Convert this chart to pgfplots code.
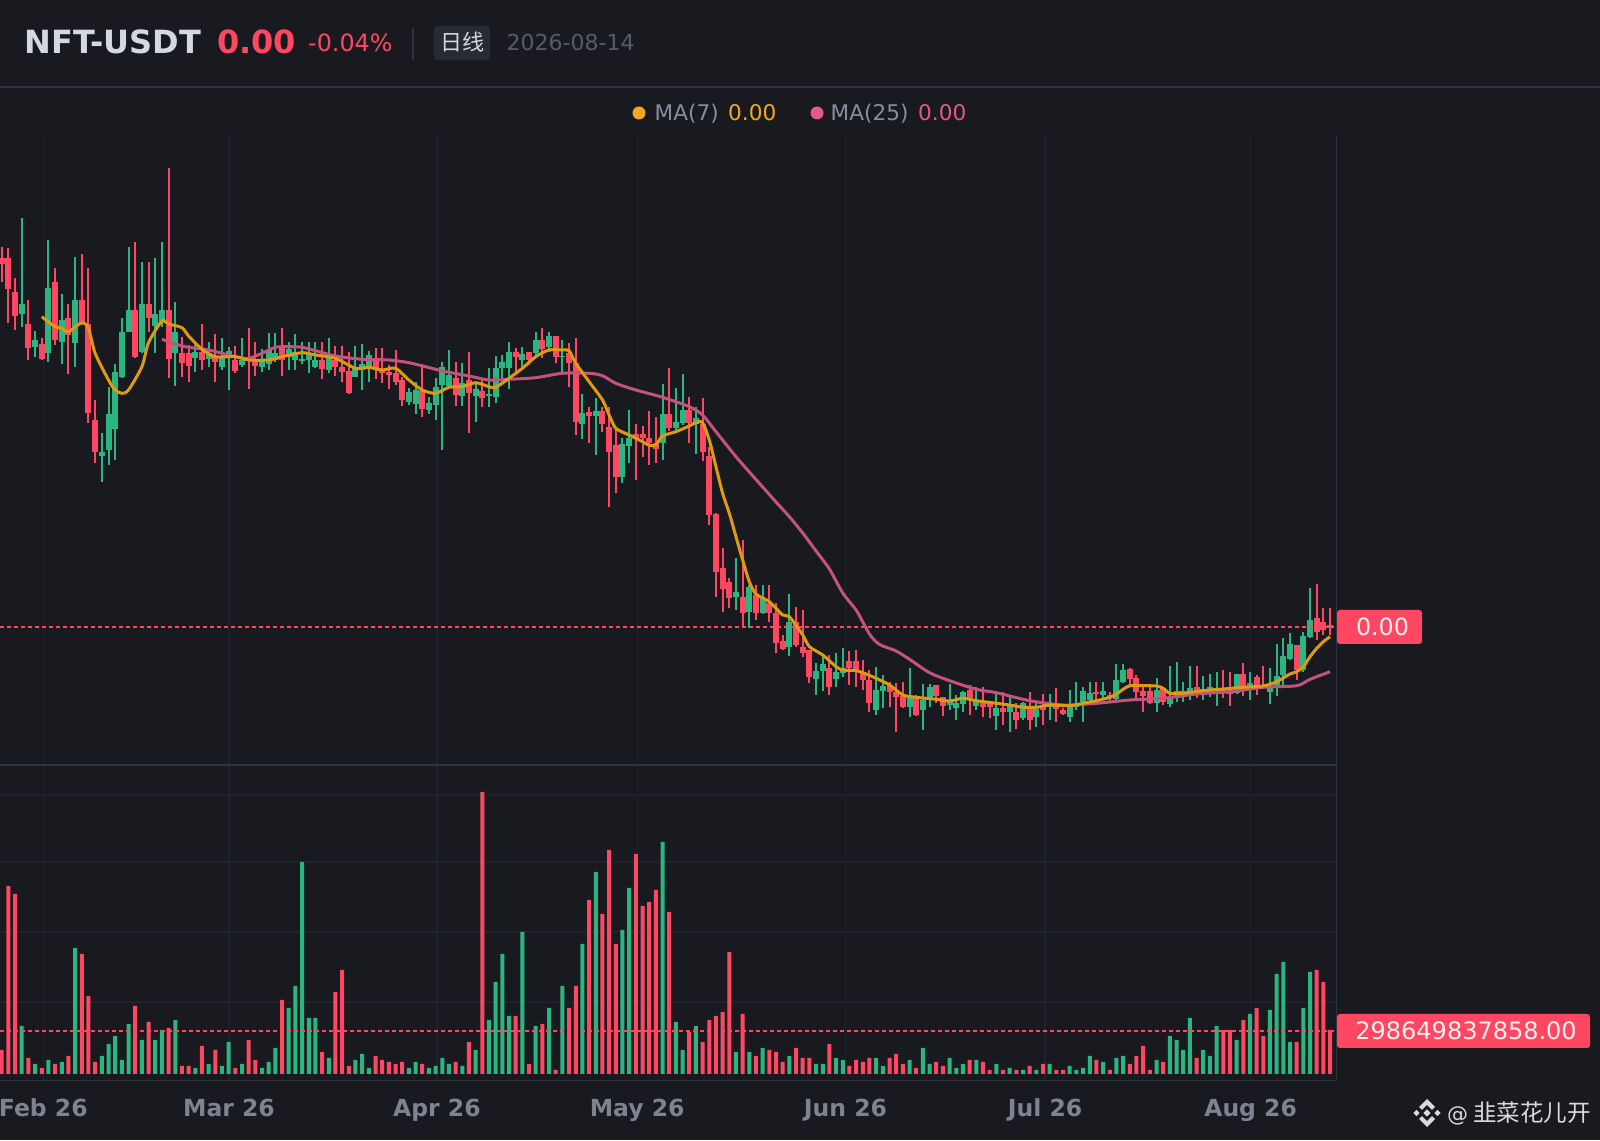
\documentclass[border=0pt]{standalone}
\usepackage{pgfplots}
\pgfplotsset{compat=1.18}
\usepackage{pgfplotstable}
\usepackage{fontspec}
\setmainfont{DejaVu Sans}
\newfontfamily\cjk{Noto Sans CJK SC}
\definecolor{bg}{HTML}{181A20}
\definecolor{gridc}{HTML}{1F2228}
\definecolor{borderc}{HTML}{2F343C}
\definecolor{upc}{HTML}{2BB681}
\definecolor{dnc}{HTML}{FF4761}
\definecolor{maA}{HTML}{DD9A12}
\definecolor{maB}{HTML}{C4527F}
\definecolor{maAt}{HTML}{F5A81E}
\definecolor{maBt}{HTML}{E4588A}
\definecolor{axtxt}{HTML}{7C8391}
\definecolor{legtxt}{HTML}{848E9C}
\definecolor{headc}{HTML}{D4D8DF}
\definecolor{badge}{HTML}{262B33}
\definecolor{datec}{HTML}{565B66}
\definecolor{wm}{HTML}{DADADA}
\pgfplotstableread{
x h t b l
0 518.3 506.7 501 483.3
1 516.7 506.7 475.7 441.7
2 486.7 472.7 449.3 435
4 465 441 417.3 405
6 426.7 421 405.7 405
8 496.7 482.7 425 420
10 461 446.7 430 391
12 510.7 465 441.7 441.7
13 496.7 441 351.7 341.7
14 365 345 313.3 301.7
20 522.7 455 407.7 406.7
22 502.7 461 447.3 433.3
25 596.7 455 405.7 386.7
27 428.3 411.7 401.7 388.3
28 420 411.7 399 383.3
30 441 412.7 405 395
32 431 408.3 403.3 383.3
35 419.3 405 394.3 391.7
37 436.7 406.7 404.3 375.7
38 423.3 405 399 389
42 436.7 416.7 405 389
48 423.3 405 395.7 385.7
50 419 405 398.3 389
51 419 398.3 393.3 383.3
52 413.3 394.3 371.7 371
56 416.7 406.7 395 385.7
57 416.7 395 392.3 381.7
58 400 393.3 390 375.7
59 415 391.7 383.3 380
60 388.3 385 365 359
63 401 374.3 355.7 347.7
68 403.3 386.7 370 359
70 413.3 385 371.7 331.7
72 385 374.3 367.3 357.7
77 416.7 413.3 407.7 390
79 413.3 412.7 405 400
81 436.7 425 415.7 406.7
83 429 429 407.7 401.7
85 422.3 411.7 401.7 377.7
86 426.7 401.7 343.3 330
88 357.7 352.7 349 321.7
90 358.3 354.3 341 333.3
91 358.3 338.3 313.3 257.7
92 336.7 320 287.7 271.7
95 341 330.7 326.7 285
96 339 330.7 326.7 307.7
97 354.3 326.7 321.7 300
98 348.3 321.7 315.7 301.7
100 396.7 351 336.7 334.3
103 368.3 355 342.3 321.7
105 366.7 341 313.3 304.3
106 318.3 309 250 240
107 251.7 251 193.3 168.3
108 216.7 196.7 175.7 153.3
109 186.7 183.3 167.3 156.7
111 225 168.3 151.7 136.7
113 180 170 151.7 145
115 180 161.7 151.7 143.3
116 161.7 151.7 121.7 111.7
117 130 124.3 115.7 115
119 158.3 143.3 120 118.3
120 155 118.3 111.7 107.7
121 115 115 87.7 81.7
124 110 96.7 77.7 70
127 114.3 104.3 96.7 80
128 115 104.3 95 78.3
129 105 93.3 85 75
130 95 85 61.7 53.3
133 83.3 80 73.3 58.3
134 81.7 73.3 67.7 33.3
135 83.3 69 57.7 56.7
137 70 69 49.7 49.3
140 80 80 69 61.7
141 68.3 68.3 59 49.3
145 80 75 66.7 50
147 78.3 63.3 58.3 48.3
148 63.3 61.7 57.7 46.7
150 73.3 56.7 52.7 40
152 61.7 53.3 45 35.7
154 73.3 56.7 45 35
156 71 60 55 40
158 76.7 60 55.7 43.3
159 56.7 55 51 50
164 83.3 73.3 71 61.7
166 73.3 70 66.7 63.3
169 96.7 95.7 85.7 80
170 90 86.7 73.3 65
171 80 74.3 69 53.3
172 80 74.3 61.7 61
174 78.3 76.7 63.3 60
179 99 78.3 74.3 66.7
183 95 76.7 73.3 66.7
184 93.3 75 71 59
186 102.3 91 78.3 69
188 90 87.7 78.3 70
189 99 80 77.7 76.7
194 120 120 95 85
197 181 146.7 133.3 125
198 156.7 143.3 135 130
199 156.7 140 136.7 130
}\dncandles
\pgfplotstableread{
x h t b l
3 546.7 461 451 437.7
5 434.3 425 417.7 407.7
7 525 476.7 411.7 403.3
9 471 445 423.3 401
11 508.3 465 421.7 397.7
15 332.3 313.3 309.3 283.3
16 378.3 351 315 300
17 401 392.7 335.7 305
18 446.7 433.3 388.3 386.7
19 518.3 455 433.3 433.3
21 502.7 461 413.3 411.7
23 506.7 451 439 411.7
24 522.7 455 441.7 438.3
26 462.7 433.3 411.7 379.3
29 420 412.7 406.7 393.3
31 423.3 411.7 405.7 397.7
33 426.7 406.7 398.3 395
34 418.3 414.3 406.7 375
36 426.7 405 400.3 398.3
39 415.7 405 398.3 393.3
40 432.3 415 401 395
41 431.7 411.7 405 403.3
43 423.3 415.7 408.3 395
44 431 413.3 405 395
45 423.3 405.7 403.7 401
46 422.7 411.7 405 391.7
47 423.3 405 398.3 396.7
49 426.7 406.7 395 391.7
53 419 398.3 387.7 387.7
54 421 401 395 375
55 414.3 410 398.3 383.3
61 376.7 372.7 363.3 360
62 383.3 375 361 351
64 368.3 362.3 355 351
65 386.7 378.3 360 345
66 403.3 398.3 380 315
67 415 390 379 377.7
69 401.7 381.7 369 359
71 383.3 375.7 369 343.3
73 396.7 371 369 357.7
74 409 396.7 367.7 361.7
75 410 402.7 396.7 385.7
76 422.7 413.3 396.7 375.7
78 418.3 411 405 395.7
80 432.7 425 412.3 408.3
82 432.7 429 418.3 413.3
84 425 409 407.7 393.3
87 370.7 352.3 341 325.7
89 366.7 354.3 349 310
93 326.7 321 287.7 281.7
94 355 326.7 319.3 301.7
99 381 351 321.7 305
101 376.7 343.3 336.7 335
102 391 355 342.3 340
104 358.3 346.7 341 311
110 206.7 173.3 167.7 155
112 180 178.3 153.3 136.7
114 180 166.7 151.7 151
118 171 143.3 117.7 109
122 101.7 94.3 85.7 70
123 111 101 94.3 74.3
125 112.3 93.3 85.7 77.7
126 116.7 96.7 92.3 88.3
131 98.3 75 55 50
132 90 79 74.3 56.7
136 96.7 66.7 57.7 47.7
138 81 65 55 35
139 81 77.7 66.7 58.3
142 81 63.3 60 55
143 70 61.7 56.7 45
144 74.3 73.3 61 53.3
146 78.3 65 59 55
149 71 56.7 49.3 35
151 70 60 53.3 33.3
153 63.3 62.3 46.7 45
155 61.7 55.7 48.3 38.3
157 71 60 57.7 45
160 75 60 48.3 43.3
161 83.3 60 57.7 55
162 78.3 74.3 63.3 43.3
163 83.3 71.7 65 61.7
165 83.3 74.3 70 65
167 101 85 65.7 64.3
168 101 95 83.3 81.7
173 86.7 75 61.7 53.3
175 99 66.7 61 58.3
176 102.7 74.3 69 63.3
177 83.3 74.3 71 63.3
178 99 76.7 72.3 65
180 89 75.7 72.3 65
181 91 78.3 73.3 68.3
182 93.3 76.7 72.3 59
185 91 91 71.7 71
187 93.3 81.7 77.7 65
190 96.7 78.3 73.3 61
191 121 89 78.3 69
192 126.7 109 90 78.3
193 132.3 121 105.7 105
195 133.3 129 95 93.3
196 176.7 145 128.3 126.7
}\upcandles
\pgfplotstableread{
x v
0 24
1 188
2 180
4 16
6 6
8 10
10 18
12 120
13 78
14 12
20 68
22 52
25 46
27 8
28 8
30 28
32 24
35 6
37 34
38 14
42 74
48 22
50 82
51 104
52 8
56 18
57 14
58 12
59 10
60 12
63 10
68 12
70 32
72 282
77 58
79 10
81 50
83 4
85 66
86 88
88 174
90 160
91 224
92 130
95 220
96 168
97 172
98 184
100 162
103 42
105 32
106 54
107 58
108 62
109 122
111 60
113 18
115 24
116 22
117 12
119 26
120 16
121 16
124 30
127 8
128 14
129 12
130 16
133 16
134 20
135 10
137 6
140 12
141 8
145 14
147 12
148 4
150 4
152 4
154 8
156 10
158 4
159 4
164 14
166 4
169 10
170 18
171 28
172 4
174 12
179 16
183 44
184 44
186 54
188 66
189 38
194 32
197 104
198 92
199 44
}\dnvol
\pgfplotstableread{
x v
3 48
5 10
7 14
9 12
11 126
15 18
16 30
17 38
18 14
19 50
21 34
23 34
24 44
26 54
29 6
31 10
33 8
34 32
36 10
39 6
40 12
41 26
43 66
44 88
45 212
46 56
47 56
49 16
53 14
54 20
55 6
61 6
62 12
64 6
65 8
66 16
67 10
69 8
71 24
73 54
74 92
75 120
76 58
78 142
80 48
82 66
84 88
87 130
89 202
93 144
94 186
99 232
101 52
102 24
104 48
110 22
112 22
114 26
118 18
122 10
123 10
125 16
126 14
131 16
132 8
136 14
138 26
139 10
142 16
143 6
144 10
146 14
149 10
151 6
153 4
155 4
157 10
160 8
161 4
162 6
163 18
165 12
167 16
168 18
173 14
175 38
176 34
177 24
178 56
180 24
181 18
182 48
185 34
187 60
190 64
191 100
192 112
193 32
195 66
196 102
}\upvol
\pgfplotstableread{
x y
6 448.3
8 438.3
9 436.7
10 433.3
12 442.3
13 436.7
14 411.7
16 385
17 375
18 371.7
19 375
21 398.3
22 422.3
24 444
25 441
27 437.3
28 429
30 415.7
32 408.3
35 408.3
37 405
40 405
42 408.3
45 412.3
47 410
50 406.7
53 396.7
55 397.7
57 395
59 396.7
61 385
63 375
65 371.7
67 377.7
69 378.3
71 382.3
73 378.3
74 377.7
76 386.7
78 396.7
80 408.3
82 415
84 415
85 414.3
86 401.7
88 383.3
90 365
91 350
92 336.7
94 330
96 323.3
97 319.7
98 320
99 329
101 333.3
103 339
104 342.3
105 342.3
106 325
107 298.3
108 271.7
109 251.7
110 228.3
111 205
112 183.3
113 171
115 163.3
117 150
118 148.3
120 130
121 118.3
123 110
125 98.3
126 95
128 94.3
129 92.3
131 86.7
133 80
135 70
137 67.7
140 65.7
142 64
144 66.7
146 64.3
149 61.7
151 60
153 57.7
155 57.7
157 60
160 59.3
162 61.7
164 64.3
166 67.7
167 71
168 75.7
169 79.3
171 79.3
173 79
174 76.7
175 71.7
177 71.7
180 74.3
183 76
186 77.7
189 79
191 83.3
193 91
194 93.3
195 98.3
196 108.3
197 116.7
198 123.3
199 128.3
}\maseven
\pgfplotstableread{
x y
24 425.7
26 421
28 417.7
31 415
35 408.3
37 406.7
39 411.7
41 417.7
43 418.3
45 417.7
47 414.3
50 409
54 405.7
58 405
61 402.3
65 395.7
66 394
70 389
73 385
76 385.7
80 387.3
84 391.7
88 391.7
90 389.3
92 381.7
95 375
99 367.7
103 358.3
105 350
107 333.3
110 308.3
112 293
114 278
116 263
118 248.3
120 232
122 214
124 196
126 172
128 155
129 143
130 131
131 123
132 119
134 114
136 105.7
139 92.3
142 84.3
146 75.7
149 72.3
154 64.3
159 60
164 61.7
169 65
174 66.7
179 71
184 73.3
189 77.7
194 79.3
196 85.7
199 93.3
}\matwentyfive
\pgfplotsset{
  every axis/.append style={scale only axis, anchor=south west, width=1336.6pt,
    xmin=-0.2547, xmax=199.98,
    axis line style={draw=none}, tick style={draw=none},
    xtick={6.23,34.05,65.2,95.2,126.4,156.3,187.1},
    xmajorgrids, ymajorgrids, major grid style={gridc, line width=1.2pt}},
  wick/.style 2 args={draw=none, mark=none, forget plot,
    error bars/.cd, y dir=plus, y explicit, error mark=none,
    error bar style={draw=#2, line width=#1, solid}},
}
\begin{document}
\begin{tikzpicture}
\useasboundingbox (0,0) rectangle (1600pt,1140pt);
\fill[bg] (0,0) rectangle (1600pt,1140pt);
\begin{axis}[at={(0pt,375pt)}, height=629pt, ymin=0, ymax=629, ytick=\empty, xticklabels={}]
\addplot[wick={2pt}{dnc}] table[x=x,y=l,y error plus expr=\thisrow{h}-\thisrow{l}] {\dncandles};
\addplot[wick={2pt}{upc}] table[x=x,y=l,y error plus expr=\thisrow{h}-\thisrow{l}] {\upcandles};
\addplot[wick={6pt}{dnc}] table[x=x,y=b,y error plus expr=\thisrow{t}-\thisrow{b}] {\dncandles};
\addplot[wick={6pt}{upc}] table[x=x,y=b,y error plus expr=\thisrow{t}-\thisrow{b}] {\upcandles};
\addplot[dnc, line width=2pt, dash pattern=on 4pt off 3pt, forget plot] coordinates {(-0.2547,138) (199.98,138)};
\addplot[maB, line width=3pt, smooth, tension=0.45, mark=none, forget plot] table[x=x,y=y] {\matwentyfive};
\addplot[maA, line width=3pt, smooth, tension=0.45, mark=none, forget plot] table[x=x,y=y] {\maseven};
\end{axis}
\begin{axis}[at={(0pt,59.4pt)}, height=315.6pt, ymin=-6.6, ymax=309, ytick={72,142,212,279}, yticklabels={},
  xticklabels={Feb 26,Mar 26,Apr 26,May 26,Jun 26,Jul 26,Aug 26},
  xticklabel style={font=\fontsize{23.5}{28}\selectfont\bfseries, text=axtxt, anchor=base, yshift=-35.5pt}]
\addplot[ybar, bar width=4pt, bar shift=0pt, fill=dnc, draw=none, forget plot] table[x=x,y=v] {\dnvol};
\addplot[ybar, bar width=4pt, bar shift=0pt, fill=upc, draw=none, forget plot] table[x=x,y=v] {\upvol};
\addplot[dnc, line width=2pt, dash pattern=on 4pt off 3pt, forget plot] coordinates {(-0.2547,43.3) (199.98,43.3)};
\end{axis}
\begin{scope}[shift={(0pt,1140pt)}, x=1pt, y=-1pt]
\draw[borderc, line width=1.5pt] (0,87) -- (1600,87);
\draw[borderc, line width=1.5pt] (0,765) -- (1337,765);
\draw[borderc, line width=1.5pt] (0,1080.6) -- (1337,1080.6);
\draw[borderc, line width=1.5pt] (1336.6,136) -- (1336.6,1080.6);
% header
\node[anchor=base west, inner sep=0, text=headc, font=\fontsize{32}{38}\selectfont\bfseries] at (24.5,54) {NFT-USDT};
\node[anchor=base west, inner sep=0, text=dnc, font=\fontsize{32}{38}\selectfont\bfseries] at (217,54) {0.00};
\node[anchor=base west, inner sep=0, text=dnc, font=\fontsize{23.8}{28}\selectfont] at (308,52) {-0.04\%};
\draw[borderc, line width=2pt] (413,28) -- (413,60);
\fill[badge, rounded corners=3pt] (434,26) rectangle (490,60);
\node[anchor=center, inner sep=0, text=headc, font=\fontsize{22}{26}\selectfont\cjk] at (462,42.5) {日线};
\node[anchor=base west, inner sep=0, text=datec, font=\fontsize{22}{26}\selectfont] at (506.5,50.5) {2026-08-14};
% legend
\fill[maAt] (639,113) circle (6.5);
\node[anchor=base west, inner sep=0, text=legtxt, font=\fontsize{21.6}{25}\selectfont] at (654.5,120.5) {MA(7)};
\node[anchor=base west, inner sep=0, text=maAt, font=\fontsize{21.6}{25}\selectfont] at (728,120.5) {0.00};
\fill[maBt] (817,113) circle (6.5);
\node[anchor=base west, inner sep=0, text=legtxt, font=\fontsize{21.6}{25}\selectfont] at (830.5,120.5) {MA(25)};
\node[anchor=base west, inner sep=0, text=maBt, font=\fontsize{21.6}{25}\selectfont] at (918,120.5) {0.00};
% value labels
\fill[dnc, rounded corners=3pt] (1337,610) rectangle (1422,644);
\node[anchor=base, inner sep=0, text=white!92!dnc, font=\fontsize{23.8}{28}\selectfont] at (1382.5,636) {0.00};
\fill[dnc, rounded corners=3pt] (1337,1014) rectangle (1590,1048);
\node[anchor=base east, inner sep=0, text=white!92!dnc, font=\fontsize{24}{28}\selectfont] at (1577,1040) {298649837858.00};
% watermark
\begin{scope}[shift={(1427pt,-1113pt)}]
\fill[wm] (0,-3.6) -- (3.6,0) -- (0,3.6) -- (-3.6,0) -- cycle;
\fill[wm] (-10.5,-3.2) -- (-7.3,0) -- (-10.5,3.2) -- (-13.7,0) -- cycle;
\fill[wm] (10.5,-3.2) -- (13.7,0) -- (10.5,3.2) -- (7.3,0) -- cycle;
\fill[wm] (0,-14) -- (8,-6) -- (5,-3.2) -- (0,-8.2) -- (-5,-3.2) -- (-8,-6) -- cycle;
\fill[wm] (0,14) -- (8,6) -- (5,3.2) -- (0,8.2) -- (-5,3.2) -- (-8,6) -- cycle;
\end{scope}
\node[anchor=base west, inner sep=0, text=wm, font=\fontsize{21}{25}\selectfont] at (1447,1121) {@};
\node[anchor=base west, inner sep=0, text=wm, font=\fontsize{23.5}{28}\selectfont\cjk] at (1473,1121.5) {韭菜花儿开};
\end{scope}
\end{tikzpicture}
\end{document}
